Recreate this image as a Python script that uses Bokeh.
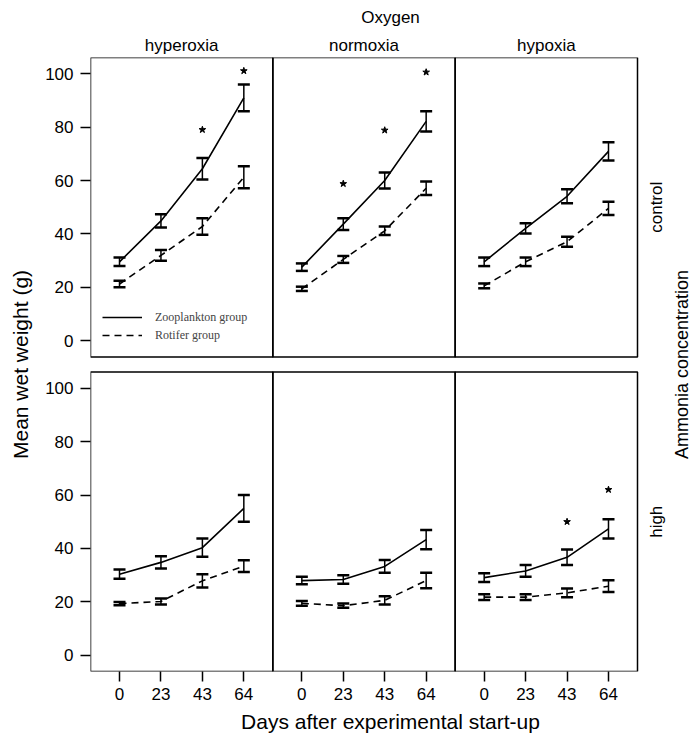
import math
from bokeh.plotting import figure
from bokeh.models import (Range1d, FixedTicker, CustomJSTickFormatter, LinearAxis,
                          ColumnDataSource, Whisker, TeeHead, Legend, LegendItem)
from bokeh.core.properties import value
from bokeh.embed import file_html
from bokeh.resources import INLINE

days = ["0", "23", "43", "64"]
oxygen = ["hyperoxia", "normoxia", "hypoxia"]
ammonia = ["control", "high"]
y_ticks = [0, 20, 40, 60, 80, 100]

# means and standard errors, one list per oxygen level (hyperoxia, normoxia, hypoxia)
zoo_ctrl = [[29.6, 44.9, 64.4, 90.9], [27.6, 43.7, 60.0, 82.1], [29.6, 42.1, 54.1, 70.9]]
zoo_ctrl_se = [[1.6, 2.5, 4.0, 5.0], [1.4, 2.2, 3.0, 3.8], [1.6, 1.9, 2.6, 3.4]]
rot_ctrl = [[21.3, 32.0, 42.8, 61.2], [19.5, 30.5, 41.2, 57.1], [20.6, 29.6, 37.1, 49.6]]
rot_ctrl_se = [[1.2, 2.0, 3.1, 4.1], [0.8, 1.3, 1.6, 2.5], [0.9, 1.6, 1.9, 2.5]]
zoo_high = [[30.4, 34.8, 40.3, 55.0], [28.0, 28.4, 33.3, 43.3], [29.1, 31.6, 36.7, 47.3]]
zoo_high_se = [[1.7, 2.3, 3.4, 5.0], [1.4, 1.6, 2.4, 3.6], [1.6, 2.2, 2.9, 3.6]]
rot_high = [[19.4, 20.2, 27.9, 33.4], [19.5, 18.6, 20.6, 28.0], [21.8, 21.8, 23.4, 25.9]]
rot_high_se = [[0.6, 1.1, 2.5, 2.2], [0.9, 0.8, 1.5, 2.9], [1.1, 1.1, 1.6, 2.2]]
# significance asterisks (y position), None = no mark
star_ctrl = [[None, None, 79.0, 101.0], [None, 58.8, 78.8, 100.5], [None, None, None, None]]
star_high = [[None, None, None, None], [None, None, None, None], [None, None, 50.0, 62.0]]

# ---- layout ----
PANEL_W = 547 / 3          # pixels per panel column
STRIP_W = 53               # pixels kept right of the panels for the row strips
FH = 614
PW = 4.4                   # panel width (x units, one unit per sampling day)
XL = 0.3                   # panel left edge relative to first category
PX = PANEL_W / PW          # pixels per x unit
YLO, YHI = -6.0, 106.0
GAP = 5.6
OFF = (YHI - YLO) + GAP    # y offset of the top ("control") row
row_off = {"control": OFF, "high": 0.0}
XR = XL + 3 * PW           # right edge of the panels

FONT = "Liberation Sans"

p = figure(frame_width=547 + STRIP_W, frame_height=FH, output_backend="svg", toolbar_location=None,
           x_range=Range1d(XL, XR + STRIP_W / PX), y_range=Range1d(YLO, YHI + OFF),
           min_border_left=90, min_border_right=0, min_border_top=57, min_border_bottom=72,
           x_axis_location=None, y_axis_location=None)
p.outline_line_color = None
p.xgrid.visible = False
p.ygrid.visible = False
p.background_fill_color = "white"

def xpos(j):
    return [j * PW + k + 1 for k in range(len(days))]

# panel borders
lefts, rights, bottoms, tops = [], [], [], []
for r in ammonia:
    for j in range(3):
        lefts.append(XL + j * PW); rights.append(XL + (j + 1) * PW)
        bottoms.append(YLO + row_off[r]); tops.append(YHI + row_off[r])
p.quad(left=lefts, right=rights, bottom=bottoms, top=tops, fill_color=None,
       line_color="black", line_width=1.5)

zoo_xs, zoo_ys, rot_xs, rot_ys = [], [], [], []
wx, wlo, whi = [], [], []
sx, sy = [], []
for r, zm, zs, rm, rs, st in [("control", zoo_ctrl, zoo_ctrl_se, rot_ctrl, rot_ctrl_se, star_ctrl),
                               ("high", zoo_high, zoo_high_se, rot_high, rot_high_se, star_high)]:
    o = row_off[r]
    for j in range(3):
        xs = xpos(j)
        zoo_xs.append(xs); zoo_ys.append([v + o for v in zm[j]])
        rot_xs.append(xs); rot_ys.append([v + o for v in rm[j]])
        for k in range(4):
            for m, s in ((zm[j][k], zs[j][k]), (rm[j][k], rs[j][k])):
                wx.append(xs[k]); wlo.append(m - s + o); whi.append(m + s + o)
            if st[j][k] is not None:
                sx.append(xs[k]); sy.append(st[j][k] + o)

zoo_r = p.multi_line(zoo_xs, zoo_ys, line_color="black", line_width=1.6)
rot_r = p.multi_line(rot_xs, rot_ys, line_color="black", line_width=1.6, line_dash="7 5")

wsrc = ColumnDataSource(dict(x=wx, lower=wlo, upper=whi))
p.add_layout(Whisker(source=wsrc, base="x", lower="lower", upper="upper", dimension="height",
                     line_color="black", line_width=1.5,
                     upper_head=TeeHead(size=12, line_width=2.5, line_color="black"),
                     lower_head=TeeHead(size=12, line_width=2.5, line_color="black")))

p.scatter(sx, sy, marker="star", size=7, color="black")

# ---- axes ----
left = LinearAxis(ticker=FixedTicker(ticks=y_ticks + [t + OFF for t in y_ticks]),
                  formatter=CustomJSTickFormatter(args=dict(off=OFF),
                      code="return String(Math.round(tick > 105 ? tick - off : tick));"),
                  axis_label="Mean wet weight (g)")
bottom = LinearAxis(ticker=FixedTicker(ticks=[x for j in range(3) for x in xpos(j)]),
                    formatter=CustomJSTickFormatter(args=dict(pw=PW, xl=XL, labels=days),
                        code="const j = Math.floor((tick - xl) / pw); const k = Math.round(tick - j * pw); return labels[k - 1];"),
                    axis_label="Days after experimental start-up")
top = LinearAxis(ticker=FixedTicker(ticks=[j * PW + 2.5 for j in range(3)]),
                 formatter=CustomJSTickFormatter(args=dict(pw=PW, labels=oxygen),
                     code="return labels[Math.round((tick - 2.5) / pw)];"),
                 axis_label="Oxygen")

for ax in (left, bottom, top):
    ax.axis_line_color = None
    ax.minor_tick_line_color = None
    ax.major_label_text_font = FONT
    ax.major_label_text_font_size = "17px"
    ax.major_label_text_color = "black"
    ax.axis_label_text_font = FONT
    ax.axis_label_text_font_style = "normal"
    ax.axis_label_text_color = "black"
    ax.major_tick_in = 0

for ax in (left, bottom):
    ax.major_tick_out = 10
    ax.major_tick_line_width = 1.5
    ax.major_tick_line_color = "black"
    ax.axis_label_text_font_size = "21px"
left.major_label_standoff = 7
left.axis_label_standoff = 10
bottom.major_label_standoff = 6
bottom.axis_label_standoff = 7

top.major_tick_line_color = None
top.major_tick_out = 0
top.major_label_standoff = 3
top.axis_label_standoff = 6
top.axis_label_text_font_size = "17px"

p.add_layout(left, "left")
p.add_layout(bottom, "below")
p.add_layout(top, "above")

# right-hand strip labels (row factor) and its title, reading bottom to top
p.text(x=[XR + 19 / PX] * len(ammonia), y=[(YLO + YHI) / 2 + row_off[r] for r in ammonia],
       text=ammonia, angle=math.pi / 2, text_align="center", text_baseline="middle",
       text_font=value(FONT), text_font_size="17px", text_color="black")
p.text(x=[XR + 44 / PX], y=[(YLO + YHI + OFF) / 2], text=["Ammonia concentration"],
       angle=math.pi / 2, text_align="center", text_baseline="middle",
       text_font=value(FONT), text_font_size="18px", text_color="black")

legend = Legend(items=[LegendItem(label="Zooplankton group", renderers=[zoo_r], index=0),
                       LegendItem(label="Rotifer group", renderers=[rot_r], index=0)],
                location=(12, 328), padding=0, margin=0, spacing=2,
                glyph_width=40, glyph_height=16, label_height=16, label_standoff=13,
                label_text_font="Liberation Serif", label_text_font_size="12px",
                border_line_color=None, background_fill_alpha=0)
p.add_layout(legend)

open("out.html", "w").write(file_html(p, INLINE))
